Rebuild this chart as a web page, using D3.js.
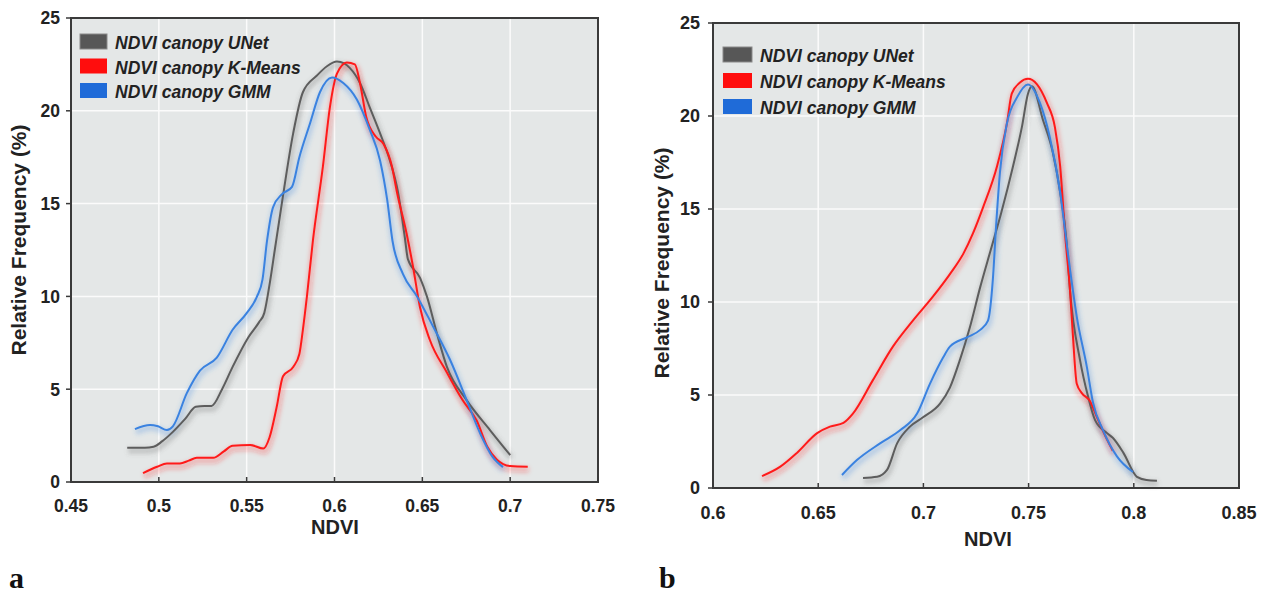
<!DOCTYPE html>
<html>
<head>
<meta charset="utf-8">
<script src="https://cdn.jsdelivr.net/npm/d3@7"></script>
<style>
  body { margin: 0; background: #fff; }
  svg { display: block; }
  .tick-label { font-family: "Liberation Sans", Arial, sans-serif; font-weight: bold; fill: #222; }
  .axis-title { font-family: "Liberation Sans", Arial, sans-serif; font-weight: bold; fill: #222; }
  .legend-text { font-family: "Liberation Sans", Arial, sans-serif; font-weight: bold; font-style: italic; fill: #222; }
  .panel-tag { font-family: "Liberation Serif", "Times New Roman", serif; font-weight: bold; fill: #111; }
</style>
</head>
<body>
<svg id="chart" width="1264" height="594"></svg>
<script>
// series names + colours
const seriesNames = ["NDVI canopy UNet", "NDVI canopy K-Means", "NDVI canopy GMM"];
const seriesColors = ["#5d5d5d", "#ff1a1a", "#3a82e0"];
const swatchColors = ["#575757", "#ff0d0d", "#1f6bd8"];

const yTicks = [0, 5, 10, 15, 20, 25];

// panel a
const xTicksA = [0.45, 0.5, 0.55, 0.6, 0.65, 0.7, 0.75];
const xLabelsA = ["0.45", "0.5", "0.55", "0.6", "0.65", "0.7", "0.75"];

const unetA = [[0.482,1.85],[0.492,1.85],[0.497,1.9],[0.502,2.2],[0.508,2.7],[0.515,3.4],[0.521,4.05],[0.526,4.1],[0.530,4.1],
  [0.536,5.0],[0.542,6.2],[0.551,7.8],[0.557,8.6],[0.560,9.1],[0.5633,10.8],[0.566,12.5],[0.570,15.0],[0.5765,18.8],[0.582,21.0],
  [0.590,21.9],[0.5957,22.4],[0.6014,22.65],[0.6055,22.55],[0.6088,22.3],[0.6145,21.5],[0.620,20.2],[0.6259,18.8],[0.6316,17.3],
  [0.636,15.7],[0.640,13.2],[0.6418,12.0],[0.6487,11.0],[0.6526,10.0],[0.6583,8.0],[0.664,6.2],[0.6753,4.4],[0.6885,2.8],[0.700,1.45]];

const kmeansA = [[0.491,0.48],[0.499,0.82],[0.5046,1.0],[0.512,1.0],[0.517,1.15],[0.5216,1.3],[0.531,1.3],[0.537,1.65],[0.542,1.95],
  [0.552,2.0],[0.5595,1.8],[0.563,2.4],[0.567,4.0],[0.5707,5.7],[0.5765,6.2],[0.580,6.9],[0.582,8.2],[0.5843,10.0],[0.5877,13.0],
  [0.5934,17.0],[0.5974,20.2],[0.6014,22.0],[0.607,22.6],[0.6116,22.5],[0.6145,21.5],[0.618,19.7],[0.6236,18.6],[0.628,18.2],
  [0.6327,17.0],[0.6356,15.6],[0.641,13.4],[0.6447,11.6],[0.6487,9.4],[0.6543,7.65],[0.664,5.9],[0.673,4.4],[0.681,3.3],
  [0.687,1.9],[0.6925,1.2],[0.700,0.86],[0.710,0.82]];

const gmmA = [[0.4864,2.85],[0.495,3.07],[0.4995,3.0],[0.5046,2.8],[0.508,3.0],[0.516,4.8],[0.5234,6.0],[0.533,6.7],[0.542,8.2],
  [0.550,9.1],[0.5559,10.0],[0.559,10.9],[0.5616,13.0],[0.565,14.8],[0.570,15.5],[0.5758,15.9],[0.580,17.5],[0.586,19.3],
  [0.5917,21.0],[0.5986,21.8],[0.605,21.5],[0.6128,20.6],[0.620,19.0],[0.626,17.3],[0.630,15.2],[0.633,13.0],[0.639,11.2],
  [0.647,10.0],[0.656,8.4],[0.6657,6.6],[0.6753,4.4],[0.683,2.6],[0.690,1.35],[0.6959,0.8]];

// panel b
const xTicksB = [0.6, 0.65, 0.7, 0.75, 0.8, 0.85];
const xLabelsB = ["0.6", "0.65", "0.7", "0.75", "0.8", "0.85"];

const unetB = [[0.6713,0.54],[0.678,0.6],[0.6827,0.97],[0.6875,2.4],[0.6936,3.3],[0.6998,3.8],[0.708,4.55],[0.7126,5.4],
  [0.7174,6.9],[0.722,8.6],[0.727,10.8],[0.732,12.8],[0.737,14.8],[0.7426,17.3],[0.7468,19.4],[0.7497,21.2],[0.7516,21.6],
  [0.7568,19.8],[0.7616,18.0],[0.765,15.9],[0.768,13.3],[0.7697,10.6],[0.7744,6.9],[0.7783,4.9],[0.7816,3.65],[0.7873,2.95],
  [0.790,2.7],[0.795,1.9],[0.8015,0.6],[0.806,0.43],[0.811,0.39]];

const kmeansB = [[0.6233,0.64],[0.632,1.15],[0.640,1.9],[0.6495,2.95],[0.6556,3.3],[0.662,3.5],[0.6665,4.0],[0.676,5.8],
  [0.6855,7.6],[0.695,9.0],[0.7046,10.3],[0.7126,11.5],[0.719,12.6],[0.7236,13.7],[0.7284,15.1],[0.735,17.3],[0.7397,19.6],
  [0.742,21.2],[0.7459,21.8],[0.7497,22.0],[0.754,21.7],[0.7587,20.7],[0.7625,19.4],[0.765,17.3],[0.7673,13.7],[0.7697,10.6],
  [0.771,8.3],[0.7729,5.6],[0.7753,5.1],[0.779,4.7],[0.7825,3.8],[0.7873,2.6],[0.790,2.0]];

const gmmB = [[0.6613,0.7],[0.6684,1.5],[0.6794,2.4],[0.6889,3.1],[0.697,4.0],[0.7031,5.6],[0.7093,7.0],[0.7126,7.6],
  [0.7207,8.1],[0.727,8.5],[0.7307,9.0],[0.733,11.2],[0.7345,14.0],[0.7364,17.0],[0.7397,19.6],[0.7445,21.0],[0.7497,21.7],
  [0.7554,20.7],[0.760,18.9],[0.765,15.9],[0.7687,12.6],[0.7729,9.2],[0.7777,6.5],[0.7806,4.6],[0.7854,3.1],[0.792,1.7],[0.7996,0.86]];

const svg = d3.select("#chart");

const defs = svg.append("defs");
defs.append("filter")
    .attr("id", "glow")
    .attr("x", "-20%").attr("y", "-20%").attr("width", "140%").attr("height", "140%")
    .append("feGaussianBlur")
    .attr("stdDeviation", 2.2);

const drawPanel = (p) => {
    const x = d3.scaleLinear().domain(p.xDomain).range([p.left, p.right]);
    const y = d3.scaleLinear().domain([0, 25]).range([p.bottom, p.top]);
    const g = svg.append("g");

    // plot background
    g.append("rect")
        .attr("x", p.left).attr("y", p.top)
        .attr("width", p.right - p.left).attr("height", p.bottom - p.top)
        .attr("fill", "#e4e7e7");

    // grid
    g.selectAll(".vgrid").data(p.xTicks.slice(1, -1)).join("line")
        .attr("x1", (d) => x(d)).attr("x2", (d) => x(d))
        .attr("y1", p.top).attr("y2", p.bottom)
        .attr("stroke", "#fbfbfb").attr("stroke-width", 1.5);
    g.selectAll(".hgrid").data(yTicks.slice(1, -1)).join("line")
        .attr("x1", p.left).attr("x2", p.right)
        .attr("y1", (d) => y(d)).attr("y2", (d) => y(d))
        .attr("stroke", "#fbfbfb").attr("stroke-width", 1.5);

    const line = d3.line()
        .x((d) => x(d[0]))
        .y((d) => y(d[1]))
        .curve(d3.curveMonotoneX);

    // soft shadows under the curves
    p.series.forEach((s, i) => {
        g.append("path")
            .attr("d", line(s))
            .attr("fill", "none")
            .attr("stroke", seriesColors[i])
            .attr("stroke-opacity", 0.25)
            .attr("stroke-width", 6)
            .attr("transform", "translate(1,3)")
            .attr("filter", "url(#glow)");
    });
    p.series.forEach((s, i) => {
        g.append("path")
            .attr("d", line(s))
            .attr("fill", "none")
            .attr("stroke", seriesColors[i])
            .attr("stroke-width", 2)
            .attr("stroke-linejoin", "round");
    });

    // frame
    g.append("rect")
        .attr("x", p.left).attr("y", p.top)
        .attr("width", p.right - p.left).attr("height", p.bottom - p.top)
        .attr("fill", "none").attr("stroke", "#3a3a3a").attr("stroke-width", 2);

    // y ticks (outward)
    g.selectAll(".ytick").data(yTicks).join("line")
        .attr("x1", p.left - 5).attr("x2", p.left)
        .attr("y1", (d) => y(d)).attr("y2", (d) => y(d))
        .attr("stroke", "#3a3a3a").attr("stroke-width", 1.5);
    g.selectAll(".ylab").data(yTicks).join("text")
        .attr("class", "tick-label")
        .attr("x", p.left - p.yLabelGap)
        .attr("y", (d) => y(d))
        .attr("dy", "0.36em")
        .attr("text-anchor", "end")
        .style("font-size", p.tickFont + "px")
        .text((d) => d);

    // x ticks (inward)
    g.selectAll(".xtick").data(p.xTicks).join("line")
        .attr("x1", (d) => x(d)).attr("x2", (d) => x(d))
        .attr("y1", p.bottom - 5).attr("y2", p.bottom)
        .attr("stroke", "#3a3a3a").attr("stroke-width", 1.5);
    g.selectAll(".xlab").data(p.xTicks).join("text")
        .attr("class", "tick-label")
        .attr("x", (d) => x(d))
        .attr("y", p.xLabelY)
        .attr("text-anchor", "middle")
        .style("font-size", p.tickFont + "px")
        .text((d, i) => p.xLabels[i]);

    // axis titles
    g.append("text")
        .attr("class", "axis-title")
        .attr("x", p.xTitleX).attr("y", p.xTitleY)
        .attr("text-anchor", "middle")
        .style("font-size", p.titleFont + "px")
        .text("NDVI");
    g.append("text")
        .attr("class", "axis-title")
        .attr("transform", `translate(${p.yTitleX},${p.yTitleY}) rotate(-90)`)
        .attr("text-anchor", "middle")
        .style("font-size", p.yTitleFont + "px")
        .text("Relative Frequency (%)");

    // legend
    const lg = g.append("g").attr("transform", `translate(${p.legendX},${p.legendY})`);
    seriesNames.forEach((name, i) => {
        lg.append("rect")
            .attr("x", 0).attr("y", i * p.legendStep)
            .attr("width", p.swatchW).attr("height", 15)
            .attr("fill", swatchColors[i])
            .attr("stroke", i === 0 ? "#8a8a8a" : "none")
            .attr("stroke-width", 1);
        lg.append("text")
            .attr("class", "legend-text")
            .attr("x", p.swatchW + 8).attr("y", i * p.legendStep + 15)
            .style("font-size", p.legendFont + "px")
            .text(name);
    });

    // panel tag
    svg.append("text")
        .attr("class", "panel-tag")
        .attr("x", p.tagX).attr("y", 588)
        .style("font-size", "30px")
        .text(p.tag);
};

drawPanel({
    left: 71, right: 598, top: 18, bottom: 482,
    xDomain: [0.45, 0.75], xTicks: xTicksA, xLabels: xLabelsA,
    series: [unetA, kmeansA, gmmA],
    tickFont: 17.5, titleFont: 20, yTitleFont: 21, legendFont: 17.5,
    yLabelGap: 11, xLabelY: 512,
    xTitleX: 335, xTitleY: 534, yTitleX: 26, yTitleY: 240,
    legendX: 80, legendY: 34, legendStep: 24.5, swatchW: 27,
    tagX: 9, tag: "a"
});

drawPanel({
    left: 713, right: 1239, top: 23, bottom: 488,
    xDomain: [0.6, 0.85], xTicks: xTicksB, xLabels: xLabelsB,
    series: [unetB, kmeansB, gmmB],
    tickFont: 18, titleFont: 20, yTitleFont: 21, legendFont: 17.5,
    yLabelGap: 13, xLabelY: 519,
    xTitleX: 988, xTitleY: 546, yTitleX: 669, yTitleY: 263,
    legendX: 723, legendY: 47, legendStep: 26, swatchW: 29,
    tagX: 659, tag: "b"
});
</script>
</body>
</html>
